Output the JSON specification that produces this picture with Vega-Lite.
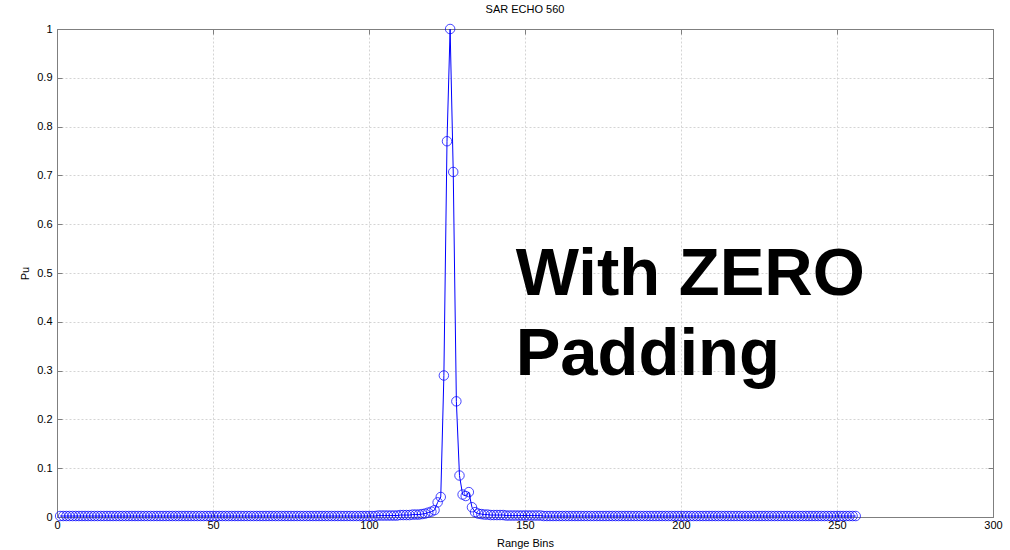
{
  "$schema": "https://vega.github.io/schema/vega-lite/v6.json",
  "width": 936,
  "height": 488,
  "autosize": {"type": "none"},
  "padding": {"left": 57, "top": 29, "right": 17, "bottom": 33},
  "background": "white",
  "title": {"text": "SAR ECHO 560", "font": "Liberation Sans", "fontSize": 11, "fontWeight": "normal", "color": "#000000", "offset": 8},
  "config": {
    "view": {"stroke": "#7f7f7f", "strokeWidth": 1},
    "axis": {
      "labelFont": "Liberation Sans", "labelFontSize": 11, "labelColor": "#000000",
      "titleFont": "Liberation Sans", "titleFontSize": 11, "titleFontWeight": "normal", "titleColor": "#000000",
      "domainColor": "#7f7f7f", "tickColor": "#7f7f7f", "tickSize": -5,
      "gridColor": "#d4d4d4", "gridDash": [2, 2], "gridWidth": 1
    }
  },
  "datasets": {
    "echo": [
      {"bin":1,"pu":0.002},{"bin":2,"pu":0.002},{"bin":3,"pu":0.002},{"bin":4,"pu":0.002},{"bin":5,"pu":0.002},
      {"bin":6,"pu":0.002},{"bin":7,"pu":0.002},{"bin":8,"pu":0.002},{"bin":9,"pu":0.002},{"bin":10,"pu":0.002},
      {"bin":11,"pu":0.002},{"bin":12,"pu":0.002},{"bin":13,"pu":0.002},{"bin":14,"pu":0.002},{"bin":15,"pu":0.002},
      {"bin":16,"pu":0.002},{"bin":17,"pu":0.002},{"bin":18,"pu":0.002},{"bin":19,"pu":0.002},{"bin":20,"pu":0.002},
      {"bin":21,"pu":0.002},{"bin":22,"pu":0.002},{"bin":23,"pu":0.002},{"bin":24,"pu":0.002},{"bin":25,"pu":0.002},
      {"bin":26,"pu":0.002},{"bin":27,"pu":0.002},{"bin":28,"pu":0.002},{"bin":29,"pu":0.002},{"bin":30,"pu":0.002},
      {"bin":31,"pu":0.002},{"bin":32,"pu":0.002},{"bin":33,"pu":0.002},{"bin":34,"pu":0.002},{"bin":35,"pu":0.002},
      {"bin":36,"pu":0.002},{"bin":37,"pu":0.002},{"bin":38,"pu":0.002},{"bin":39,"pu":0.002},{"bin":40,"pu":0.002},
      {"bin":41,"pu":0.002},{"bin":42,"pu":0.002},{"bin":43,"pu":0.002},{"bin":44,"pu":0.002},{"bin":45,"pu":0.002},
      {"bin":46,"pu":0.002},{"bin":47,"pu":0.002},{"bin":48,"pu":0.002},{"bin":49,"pu":0.002},{"bin":50,"pu":0.002},
      {"bin":51,"pu":0.002},{"bin":52,"pu":0.002},{"bin":53,"pu":0.002},{"bin":54,"pu":0.002},{"bin":55,"pu":0.002},
      {"bin":56,"pu":0.002},{"bin":57,"pu":0.002},{"bin":58,"pu":0.002},{"bin":59,"pu":0.002},{"bin":60,"pu":0.002},
      {"bin":61,"pu":0.002},{"bin":62,"pu":0.002},{"bin":63,"pu":0.002},{"bin":64,"pu":0.002},{"bin":65,"pu":0.002},
      {"bin":66,"pu":0.002},{"bin":67,"pu":0.002},{"bin":68,"pu":0.002},{"bin":69,"pu":0.002},{"bin":70,"pu":0.002},
      {"bin":71,"pu":0.002},{"bin":72,"pu":0.002},{"bin":73,"pu":0.002},{"bin":74,"pu":0.002},{"bin":75,"pu":0.002},
      {"bin":76,"pu":0.002},{"bin":77,"pu":0.002},{"bin":78,"pu":0.002},{"bin":79,"pu":0.002},{"bin":80,"pu":0.002},
      {"bin":81,"pu":0.002},{"bin":82,"pu":0.002},{"bin":83,"pu":0.002},{"bin":84,"pu":0.002},{"bin":85,"pu":0.002},
      {"bin":86,"pu":0.002},{"bin":87,"pu":0.002},{"bin":88,"pu":0.002},{"bin":89,"pu":0.002},{"bin":90,"pu":0.002},
      {"bin":91,"pu":0.002},{"bin":92,"pu":0.002},{"bin":93,"pu":0.002},{"bin":94,"pu":0.002},{"bin":95,"pu":0.002},
      {"bin":96,"pu":0.002},{"bin":97,"pu":0.002},{"bin":98,"pu":0.002},{"bin":99,"pu":0.002},{"bin":100,"pu":0.002},
      {"bin":101,"pu":0.002},{"bin":102,"pu":0.002},{"bin":103,"pu":0.003},{"bin":104,"pu":0.003},{"bin":105,"pu":0.003},
      {"bin":106,"pu":0.003},{"bin":107,"pu":0.003},{"bin":108,"pu":0.003},{"bin":109,"pu":0.003},{"bin":110,"pu":0.004},
      {"bin":111,"pu":0.004},{"bin":112,"pu":0.004},{"bin":113,"pu":0.004},{"bin":114,"pu":0.005},{"bin":115,"pu":0.005},
      {"bin":116,"pu":0.005},{"bin":117,"pu":0.006},{"bin":118,"pu":0.007},{"bin":119,"pu":0.009},{"bin":120,"pu":0.011},
      {"bin":121,"pu":0.014},{"bin":122,"pu":0.03},{"bin":123,"pu":0.041},{"bin":124,"pu":0.29},{"bin":125,"pu":0.77},
      {"bin":126,"pu":1.0},{"bin":127,"pu":0.707},{"bin":128,"pu":0.237},{"bin":129,"pu":0.085},{"bin":130,"pu":0.046},
      {"bin":131,"pu":0.043},{"bin":132,"pu":0.051},{"bin":133,"pu":0.02},{"bin":134,"pu":0.01},{"bin":135,"pu":0.007},
      {"bin":136,"pu":0.006},{"bin":137,"pu":0.005},{"bin":138,"pu":0.005},{"bin":139,"pu":0.004},{"bin":140,"pu":0.004},
      {"bin":141,"pu":0.004},{"bin":142,"pu":0.004},{"bin":143,"pu":0.004},{"bin":144,"pu":0.003},{"bin":145,"pu":0.003},
      {"bin":146,"pu":0.003},{"bin":147,"pu":0.003},{"bin":148,"pu":0.003},{"bin":149,"pu":0.003},{"bin":150,"pu":0.003},
      {"bin":151,"pu":0.003},{"bin":152,"pu":0.003},{"bin":153,"pu":0.003},{"bin":154,"pu":0.003},{"bin":155,"pu":0.003},
      {"bin":156,"pu":0.002},{"bin":157,"pu":0.002},{"bin":158,"pu":0.002},{"bin":159,"pu":0.002},{"bin":160,"pu":0.002},
      {"bin":161,"pu":0.002},{"bin":162,"pu":0.002},{"bin":163,"pu":0.002},{"bin":164,"pu":0.002},{"bin":165,"pu":0.002},
      {"bin":166,"pu":0.002},{"bin":167,"pu":0.002},{"bin":168,"pu":0.002},{"bin":169,"pu":0.002},{"bin":170,"pu":0.002},
      {"bin":171,"pu":0.002},{"bin":172,"pu":0.002},{"bin":173,"pu":0.002},{"bin":174,"pu":0.002},{"bin":175,"pu":0.002},
      {"bin":176,"pu":0.002},{"bin":177,"pu":0.002},{"bin":178,"pu":0.002},{"bin":179,"pu":0.002},{"bin":180,"pu":0.002},
      {"bin":181,"pu":0.002},{"bin":182,"pu":0.002},{"bin":183,"pu":0.002},{"bin":184,"pu":0.002},{"bin":185,"pu":0.002},
      {"bin":186,"pu":0.002},{"bin":187,"pu":0.002},{"bin":188,"pu":0.002},{"bin":189,"pu":0.002},{"bin":190,"pu":0.002},
      {"bin":191,"pu":0.002},{"bin":192,"pu":0.002},{"bin":193,"pu":0.002},{"bin":194,"pu":0.002},{"bin":195,"pu":0.002},
      {"bin":196,"pu":0.002},{"bin":197,"pu":0.002},{"bin":198,"pu":0.002},{"bin":199,"pu":0.002},{"bin":200,"pu":0.002},
      {"bin":201,"pu":0.002},{"bin":202,"pu":0.002},{"bin":203,"pu":0.002},{"bin":204,"pu":0.002},{"bin":205,"pu":0.002},
      {"bin":206,"pu":0.002},{"bin":207,"pu":0.002},{"bin":208,"pu":0.002},{"bin":209,"pu":0.002},{"bin":210,"pu":0.002},
      {"bin":211,"pu":0.002},{"bin":212,"pu":0.002},{"bin":213,"pu":0.002},{"bin":214,"pu":0.002},{"bin":215,"pu":0.002},
      {"bin":216,"pu":0.002},{"bin":217,"pu":0.002},{"bin":218,"pu":0.002},{"bin":219,"pu":0.002},{"bin":220,"pu":0.002},
      {"bin":221,"pu":0.002},{"bin":222,"pu":0.002},{"bin":223,"pu":0.002},{"bin":224,"pu":0.002},{"bin":225,"pu":0.002},
      {"bin":226,"pu":0.002},{"bin":227,"pu":0.002},{"bin":228,"pu":0.002},{"bin":229,"pu":0.002},{"bin":230,"pu":0.002},
      {"bin":231,"pu":0.002},{"bin":232,"pu":0.002},{"bin":233,"pu":0.002},{"bin":234,"pu":0.002},{"bin":235,"pu":0.002},
      {"bin":236,"pu":0.002},{"bin":237,"pu":0.002},{"bin":238,"pu":0.002},{"bin":239,"pu":0.002},{"bin":240,"pu":0.002},
      {"bin":241,"pu":0.002},{"bin":242,"pu":0.002},{"bin":243,"pu":0.002},{"bin":244,"pu":0.002},{"bin":245,"pu":0.002},
      {"bin":246,"pu":0.002},{"bin":247,"pu":0.002},{"bin":248,"pu":0.002},{"bin":249,"pu":0.002},{"bin":250,"pu":0.002},
      {"bin":251,"pu":0.002},{"bin":252,"pu":0.002},{"bin":253,"pu":0.002},{"bin":254,"pu":0.002},{"bin":255,"pu":0.002},
      {"bin":256,"pu":0.002}
    ],
    "note": [
      {"bin": 147, "pu": 0.455, "label": "With ZERO"},
      {"bin": 147, "pu": 0.291, "label": "Padding"}
    ]
  },
  "resolve": {"axis": {"x": "independent", "y": "independent"}},
  "layer": [
    {
      "data": {"name": "echo"},
      "mark": {"type": "line", "color": "#0000ff", "strokeWidth": 1},
      "encoding": {
        "x": {"field": "bin", "type": "quantitative", "scale": {"domain": [0, 300], "nice": false, "zero": false},
              "axis": {"orient": "bottom", "title": "Range Bins", "values": [0, 50, 100, 150, 200, 250, 300], "format": "d", "grid": true, "labelPadding": 7, "titlePadding": 7, "labelFlush": false}},
        "y": {"field": "pu", "type": "quantitative", "scale": {"domain": [0, 1], "nice": false},
              "axis": {"orient": "left", "title": "Pu", "values": [0, 0.1, 0.2, 0.3, 0.4, 0.5, 0.6, 0.7, 0.8, 0.9, 1], "format": "~g", "grid": true, "labelPadding": 10, "titlePadding": 6, "labelFlush": false}}
      }
    },
    {
      "data": {"name": "echo"},
      "mark": {"type": "point", "shape": "circle", "filled": false, "stroke": "#0000ff", "strokeWidth": 0.8, "size": 90, "opacity": 0.9},
      "encoding": {
        "x": {"field": "bin", "type": "quantitative",
              "axis": {"orient": "top", "title": null, "values": [0, 50, 100, 150, 200, 250, 300], "labels": false, "grid": false}},
        "y": {"field": "pu", "type": "quantitative",
              "axis": {"orient": "right", "title": null, "values": [0, 0.1, 0.2, 0.3, 0.4, 0.5, 0.6, 0.7, 0.8, 0.9, 1], "labels": false, "grid": false}}
      }
    },
    {
      "data": {"name": "note"},
      "mark": {"type": "text", "font": "Liberation Sans", "fontWeight": "bold", "fontSize": 67, "align": "left", "baseline": "alphabetic", "color": "#000000"},
      "encoding": {
        "x": {"field": "bin", "type": "quantitative", "axis": null},
        "y": {"field": "pu", "type": "quantitative", "axis": null},
        "text": {"field": "label"}
      }
    }
  ]
}
